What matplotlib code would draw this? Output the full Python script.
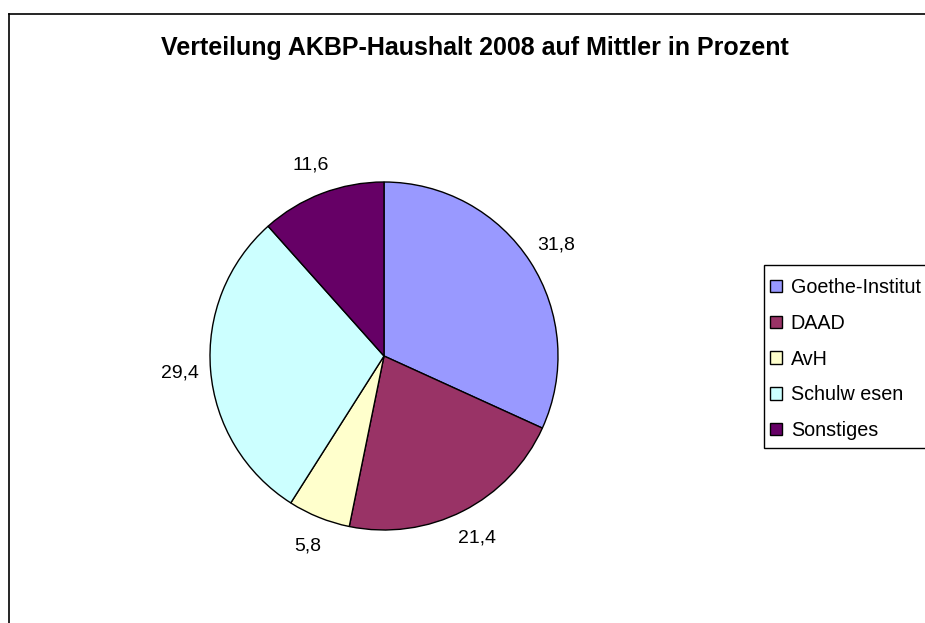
import numpy as np
import matplotlib
matplotlib.use("Agg")
import matplotlib.pyplot as plt
from matplotlib.patches import Patch, Rectangle
from matplotlib.lines import Line2D

plt.rcParams['font.family'] = ['Liberation Sans', 'DejaVu Sans']

title = "Verteilung AKBP-Haushalt 2008 auf Mittler in Prozent"
categories = ["Goethe-Institut", "DAAD", "AvH", "Schulw esen", "Sonstiges"]
values = [31.8, 21.4, 5.8, 29.4, 11.6]
value_labels = ["31,8", "21,4", "5,8", "29,4", "11,6"]
colors = ["#9999FF", "#993366", "#FFFFCC", "#CCFFFF", "#660066"]

W, H = 925, 623
fig = plt.figure(figsize=(W / 100, H / 100), dpi=100)

# outer chart-area border (clipped on right/bottom like the reference)
fig.add_artist(Line2D([9 / W, 1.01], [1 - 14 / H, 1 - 14 / H], color="black", lw=1.2, transform=fig.transFigure))
fig.add_artist(Line2D([9 / W, 9 / W], [-0.01, 1 - 14 / H], color="black", lw=1.2, transform=fig.transFigure))

fig.text(475 / W, 1 - 55 / H, title, ha="center", va="baseline", fontsize=18, fontweight="bold")

cx, cy, r = 384, 356, 174
ax = fig.add_axes([(cx - r) / W, (H - cy - r) / H, 2 * r / W, 2 * r / H])
wedges, _ = ax.pie(values, colors=colors, startangle=90, counterclock=False,
                   wedgeprops=dict(edgecolor="black", linewidth=1.0))
ax.set_xlim(-1, 1)
ax.set_ylim(-1, 1)
ax.set_aspect("equal")
ax.axis("off")

for w, lab in zip(wedges, value_labels):
    th = np.deg2rad((w.theta1 + w.theta2) / 2)
    d = 1.175
    ax.text(d * np.cos(th), d * np.sin(th), lab, ha="center", va="center",
            fontsize=14, clip_on=False)

# legend box
fig.add_artist(Rectangle((764 / W, 1 - 448 / H), 0.3, (448 - 265) / H, transform=fig.transFigure,
                         facecolor="white", edgecolor="black", linewidth=1.0, zorder=1))
handles = [Patch(facecolor=c, edgecolor="black", linewidth=1.0) for c in colors]
leg = fig.legend(handles, categories, loc="upper left", bbox_to_anchor=(770 / W, 1 - 278 / H),
                 fontsize=14.2, frameon=False,
                 handlelength=0.6, handleheight=0.6, handletextpad=0.45,
                 labelspacing=0.85, borderpad=0, borderaxespad=0)
leg.set_zorder(2)

fig.savefig("out.png", dpi=100)
